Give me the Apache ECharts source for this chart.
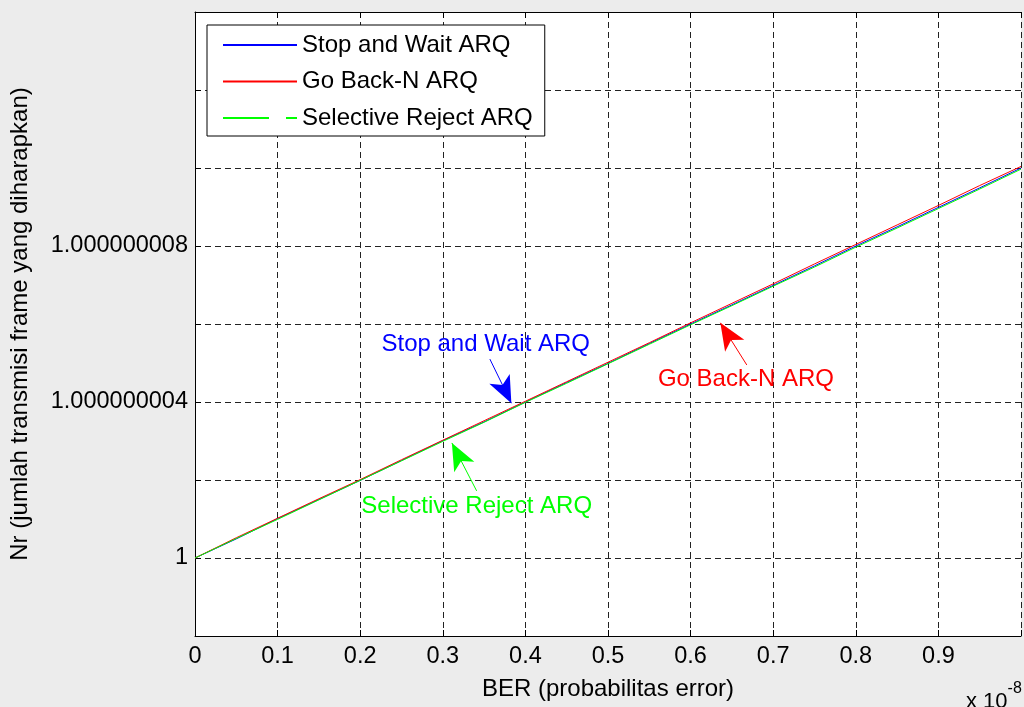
<!DOCTYPE html>
<html>
<head>
<meta charset="utf-8">
<script src="https://cdn.jsdelivr.net/npm/echarts@6/dist/echarts.min.js"></script>
<style>
  html, body { margin: 0; padding: 0; background: #ececec; }
  #chart { width: 1024px; height: 707px; }
</style>
</head>
<body>
<div id="chart"></div>
<script>
// BER (x 10^-8)
const ber = [0, 0.05, 0.1, 0.15, 0.2, 0.25, 0.3, 0.35, 0.4, 0.45, 0.5,
  0.55, 0.6, 0.65, 0.7, 0.75, 0.8, 0.85, 0.9, 0.95, 1.0];

// Nr (jumlah transmisi frame yang diharapkan)
const stopWait = [1, 1.00000000049, 1.00000000101, 1.0000000015, 1.00000000199,
  1.0000000025, 1.00000000301, 1.00000000349, 1.000000004, 1.0000000045,
  1.00000000499, 1.0000000055, 1.000000006, 1.00000000649, 1.00000000699,
  1.00000000749, 1.000000008, 1.00000000849, 1.00000000899, 1.00000000949, 1.00000001];
const goBackN = [1, 1.00000000052, 1.00000000102, 1.00000000152, 1.00000000201,
  1.00000000252, 1.00000000302, 1.00000000352, 1.00000000402, 1.00000000452,
  1.00000000502, 1.00000000552, 1.00000000603, 1.00000000653, 1.00000000703,
  1.00000000754, 1.00000000804, 1.00000000854, 1.00000000904, 1.00000000955, 1.00000001004];
const selReject = [1, 1.0000000005, 1.00000000099, 1.00000000149, 1.00000000199,
  1.00000000249, 1.00000000299, 1.00000000348, 1.00000000399, 1.00000000448,
  1.00000000498, 1.00000000548, 1.00000000598, 1.00000000647, 1.00000000697,
  1.00000000746, 1.00000000797, 1.00000000846, 1.00000000896, 1.00000000946, 1.00000000997];

const seriesNames = ['Stop and Wait ARQ', 'Go Back-N ARQ', 'Selective Reject ARQ'];
const seriesColors = ['#0000ff', '#ff0000', '#00ff00'];

// annotation text anchor and arrow (tail -> head), data coordinates
const noteText = [[0.352, 1.00000000549], [0.667, 1.00000000459], [0.341, 1.00000000133]];
const arrowTail = [[0.357, 1.0000000051], [0.668, 1.00000000495], [0.341, 1.00000000172]];
const arrowHead = [[0.383, 1.00000000397], [0.636, 1.00000000603], [0.311, 1.00000000295]];

const FONT = "'Liberation Sans', Arial, Helvetica, sans-serif";

function yLabel(v) {
  const n = Math.round((v - 1) * 1e9);
  if (n === 0) return '1';
  if (n === 4 || n === 8) return '1.00000000' + n;
  return '';
}

function makeSeries(i, data) {
  return {
    name: seriesNames[i],
    type: 'line',
    data: ber.map((x, k) => [x, data[k]]),
    symbol: 'none',
    lineStyle: { color: seriesColors[i], width: 1 },
    itemStyle: { color: seriesColors[i] },
    animation: false,
    z: 3 + i,
    markLine: {
      silent: true,
      animation: false,
      symbol: ['none', 'arrow'],
      symbolSize: [17, 27],
      label: { show: false },
      lineStyle: { color: seriesColors[i], width: 1, type: 'solid' },
      data: [[{ coord: arrowTail[i] }, { coord: arrowHead[i] }]]
    },
    markPoint: {
      silent: true,
      animation: false,
      symbol: 'circle',
      symbolSize: 0,
      label: {
        show: true,
        position: 'inside',
        color: seriesColors[i],
        fontFamily: FONT,
        fontSize: 24,
        formatter: seriesNames[i]
      },
      data: [{ coord: noteText[i] }]
    }
  };
}

const chart = echarts.init(document.getElementById('chart'));
chart.setOption({
  backgroundColor: '#ececec',
  animation: false,
  textStyle: { fontFamily: FONT },
  grid: { left: 193, top: 12, width: 832, height: 624, show: true,
    backgroundColor: '#ffffff', borderWidth: 0 },
  legend: {
    orient: 'vertical',
    left: 207, top: 25,
    padding: [8, 12, 6, 15],
    itemGap: 12.5,
    itemWidth: 74, itemHeight: 23,
    backgroundColor: '#ffffff',
    borderColor: '#000', borderWidth: 1, borderRadius: 0,
    itemStyle: { opacity: 0 },
    textStyle: { fontFamily: FONT, fontSize: 24, color: '#000' },
    data: [
      { name: seriesNames[0] },
      { name: seriesNames[1] },
      { name: seriesNames[2], lineStyle: { type: [46, 17] } }
    ]
  },
  xAxis: [{
    type: 'value', min: 0, max: 1, interval: 0.1,
    name: 'BER (probabilitas error)', nameLocation: 'middle', nameGap: 41,
    nameTextStyle: { fontSize: 24, color: '#000', fontFamily: FONT },
    axisLine: { onZero: false, lineStyle: { color: '#000', width: 1 } },
    axisTick: { inside: true, length: 6, lineStyle: { color: '#000' } },
    axisLabel: { fontSize: 23.5, color: '#000', margin: 9,
      formatter: v => (v === 1 ? '' : String(Math.round(v * 10) / 10)) },
    splitLine: { show: true, lineStyle: { color: '#222', type: [6, 4], width: 1 } }
  }, {
    type: 'value', min: 0, max: 1, interval: 0.1, position: 'top',
    axisLine: { onZero: false, lineStyle: { color: '#000', width: 1 } },
    axisTick: { inside: true, length: 6, lineStyle: { color: '#000' } },
    axisLabel: { show: false },
    splitLine: { show: false }
  }],
  yAxis: {
    type: 'value', min: 0.999999998, max: 1.000000014, interval: 0.000000002,
    name: 'Nr (jumlah transmisi frame yang diharapkan)', nameLocation: 'middle', nameGap: 163,
    nameTextStyle: { fontSize: 24, color: '#000', fontFamily: FONT },
    axisLine: { show: true, onZero: false, lineStyle: { color: '#000', width: 1 } },
    axisTick: { show: true, inside: true, length: 6, lineStyle: { color: '#000' } },
    axisLabel: { fontSize: 23.5, color: '#000', margin: 7, formatter: yLabel },
    splitLine: { show: true, lineStyle: { color: '#222', type: [6, 4], width: 1 } }
  },
  graphic: [{
    type: 'text', left: 966, top: 681, silent: true,
    style: {
      text: '{a|x 10}{b|-8}',
      rich: {
        a: { fontSize: 22, fontFamily: FONT, fill: '#000', padding: [10, 0, 0, 0] },
        b: { fontSize: 16, fontFamily: FONT, fill: '#000', verticalAlign: 'top' }
      }
    }
  }],
  series: [
    makeSeries(0, stopWait),
    makeSeries(1, goBackN),
    makeSeries(2, selReject)
  ]
});
</script>
</body>
</html>
